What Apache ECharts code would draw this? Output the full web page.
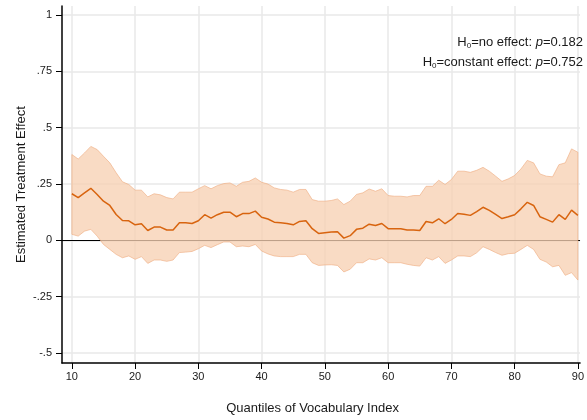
<!DOCTYPE html>
<html>
<head>
<meta charset="utf-8">
<script src="https://cdn.jsdelivr.net/npm/echarts@6/dist/echarts.min.js"></script>
<style>
  html, body { margin: 0; padding: 0; background: #fff; }
  #chart { width: 587px; height: 420px; }
</style>
</head>
<body>
<div id="chart"></div>
<script>
// quantiles of the vocabulary index
const quantiles = [
  10, 11, 12, 13, 14, 15, 16, 17, 18, 19,
  20, 21, 22, 23, 24, 25, 26, 27, 28, 29,
  30, 31, 32, 33, 34, 35, 36, 37, 38, 39,
  40, 41, 42, 43, 44, 45, 46, 47, 48, 49,
  50, 51, 52, 53, 54, 55, 56, 57, 58, 59,
  60, 61, 62, 63, 64, 65, 66, 67, 68, 69,
  70, 71, 72, 73, 74, 75, 76, 77, 78, 79,
  80, 81, 82, 83, 84, 85, 86, 87, 88, 89,
  90
];

// point estimate
const effect = [
  0.207, 0.190, 0.211, 0.231, 0.204, 0.174, 0.155, 0.115, 0.088, 0.087,
  0.069, 0.074, 0.044, 0.059, 0.059, 0.046, 0.046, 0.078, 0.078, 0.075,
  0.087, 0.114, 0.099, 0.114, 0.125, 0.125, 0.105, 0.119, 0.119, 0.130,
  0.103, 0.095, 0.081, 0.078, 0.075, 0.069, 0.084, 0.087, 0.052, 0.031,
  0.034, 0.037, 0.038, 0.010, 0.021, 0.049, 0.054, 0.072, 0.066, 0.075,
  0.052, 0.052, 0.052, 0.046, 0.046, 0.044, 0.084, 0.078, 0.096, 0.074,
  0.093, 0.119, 0.116, 0.111, 0.128, 0.147, 0.133, 0.115, 0.097, 0.105,
  0.114, 0.140, 0.169, 0.155, 0.105, 0.093, 0.081, 0.114, 0.093, 0.134,
  0.111
];

// confidence band
const upper = [
  0.381, 0.361, 0.388, 0.417, 0.403, 0.373, 0.344, 0.300, 0.260, 0.248,
  0.223, 0.223, 0.193, 0.207, 0.202, 0.190, 0.184, 0.214, 0.214, 0.214,
  0.229, 0.243, 0.229, 0.243, 0.252, 0.255, 0.240, 0.258, 0.262, 0.277,
  0.258, 0.250, 0.233, 0.226, 0.223, 0.214, 0.226, 0.226, 0.181, 0.174,
  0.174, 0.177, 0.184, 0.159, 0.174, 0.204, 0.211, 0.228, 0.218, 0.229,
  0.199, 0.196, 0.196, 0.193, 0.199, 0.199, 0.240, 0.240, 0.267, 0.248,
  0.270, 0.307, 0.307, 0.302, 0.311, 0.324, 0.307, 0.285, 0.262, 0.273,
  0.288, 0.317, 0.355, 0.344, 0.295, 0.285, 0.282, 0.336, 0.344, 0.406,
  0.391
];
const lower = [
  0.027, 0.019, 0.041, 0.049, 0.019, -0.018, -0.040, -0.062, -0.077, -0.069,
  -0.084, -0.072, -0.102, -0.087, -0.087, -0.093, -0.087, -0.054, -0.052, -0.049,
  -0.037, -0.022, -0.032, -0.019, -0.007, -0.007, -0.028, -0.025, -0.028, -0.018,
  -0.047, -0.060, -0.069, -0.072, -0.072, -0.072, -0.062, -0.062, -0.099, -0.111,
  -0.109, -0.108, -0.111, -0.140, -0.128, -0.099, -0.099, -0.082, -0.087, -0.077,
  -0.099, -0.099, -0.099, -0.106, -0.111, -0.114, -0.077, -0.087, -0.072, -0.102,
  -0.087, -0.069, -0.069, -0.072, -0.055, -0.028, -0.040, -0.054, -0.066, -0.059,
  -0.057, -0.040, -0.022, -0.040, -0.084, -0.096, -0.117, -0.111, -0.155, -0.143,
  -0.176
];

const xTicks = [10, 20, 30, 40, 50, 60, 70, 80, 90];
const yTicks = [-0.5, -0.25, 0, 0.25, 0.5, 0.75, 1];
const yTickLabels = ['-.5', '-.25', '0', '.25', '.5', '.75', '1'];

const FONT = '"Liberation Sans", Arial, sans-serif';
const LINE = '#d8640f';
const BAND = 'rgba(247,208,178,0.77)';
const EDGE = 'rgba(238,170,125,0.6)';

const chart = echarts.init(document.getElementById('chart'), null, { renderer: 'canvas' });

const bandData = quantiles.map((q, i) => [q, lower[i], upper[i]]);
const effectData = quantiles.map((q, i) => [q, effect[i]]);

// draws the whole confidence band as one polygon (on the first item only)
function renderBand(params, api) {
  if (params.dataIndex !== 0) return;
  const top = quantiles.map((q, i) => api.coord([q, upper[i]]));
  const bottom = quantiles.map((q, i) => api.coord([q, lower[i]])).reverse();
  return {
    type: 'polygon',
    shape: { points: top.concat(bottom) },
    style: { fill: BAND, stroke: EDGE, lineWidth: 1 },
    silent: true
  };
}

const richStyles = {
  t: { fontSize: 13, fontFamily: FONT, fill: '#1a1a1a', lineHeight: 16 },
  s: { fontSize: 8, fontFamily: FONT, fill: '#1a1a1a', lineHeight: 16, verticalAlign: 'bottom', padding: [6, 0, 0, 0] },
  i: { fontSize: 13, fontFamily: FONT, fontStyle: 'italic', fill: '#1a1a1a', lineHeight: 16 }
};

chart.setOption({
  animation: false,
  backgroundColor: '#fff',
  textStyle: { fontFamily: FONT },
  grid: { left: 62, right: 0, top: 6, bottom: 56, containLabel: false },
  xAxis: {
    type: 'value',
    min: 8.44,
    max: 90.34,
    name: 'Quantiles of Vocabulary Index',
    nameLocation: 'middle',
    nameGap: 39,
    nameMoveOverlap: false,
    nameTextStyle: { fontSize: 13, color: '#1a1a1a', fontFamily: FONT, padding: [0, 17, 0, 0] },
    axisLine: { onZero: false, lineStyle: { color: '#000', width: 1.5 } },
    axisTick: { show: true, length: 6, customValues: xTicks, lineStyle: { color: '#000', width: 1 } },
    axisLabel: { customValues: xTicks, fontSize: 11, color: '#1a1a1a', margin: 8, fontFamily: FONT },
    splitLine: { show: true, lineStyle: { color: '#e8e8e8', width: 1.5 } }
  },
  yAxis: {
    type: 'value',
    min: -0.544,
    max: 1.04,
    name: 'Estimated Treatment Effect',
    nameLocation: 'middle',
    nameGap: 34,
    nameMoveOverlap: false,
    nameTextStyle: { fontSize: 13, color: '#1a1a1a', fontFamily: FONT },
    axisLine: { show: true, onZero: false, lineStyle: { color: '#000', width: 1.5 } },
    axisTick: { show: true, length: 6, customValues: yTicks, lineStyle: { color: '#000', width: 1 } },
    axisLabel: {
      customValues: yTicks,
      fontSize: 11,
      color: '#1a1a1a',
      margin: 10,
      fontFamily: FONT,
      formatter: (v) => {
        const i = yTicks.findIndex((t) => Math.abs(t - v) < 1e-9);
        return i >= 0 ? yTickLabels[i] : '';
      }
    },
    splitLine: { show: true, lineStyle: { color: '#e8e8e8', width: 1.5 } }
  },
  graphic: [
    {
      type: 'text',
      x: 583,
      y: 42,
      z: 20,
      style: {
        text: '{t|H}{s|0}{t|=no effect: }{i|p}{t|=0.182}',
        align: 'right',
        verticalAlign: 'middle',
        rich: richStyles
      }
    },
    {
      type: 'text',
      x: 583,
      y: 62,
      z: 20,
      style: {
        text: '{t|H}{s|0}{t|=constant effect: }{i|p}{t|=0.752}',
        align: 'right',
        verticalAlign: 'middle',
        rich: richStyles
      }
    }
  ],
  series: [
    {
      name: 'effect',
      type: 'line',
      data: effectData,
      symbol: 'none',
      lineStyle: { color: LINE, width: 1.5 },
      z: 11,
      markLine: {
        silent: true,
        symbol: 'none',
        z: 5,
        label: { show: false },
        lineStyle: { color: '#000', width: 1, type: 'solid' },
        data: [{ yAxis: 0 }]
      }
    },
    {
      name: 'band',
      type: 'custom',
      data: bandData,
      renderItem: renderBand,
      encode: { x: 0, y: [1, 2] },
      silent: true,
      z: 10
    }
  ]
});
</script>
</body>
</html>
